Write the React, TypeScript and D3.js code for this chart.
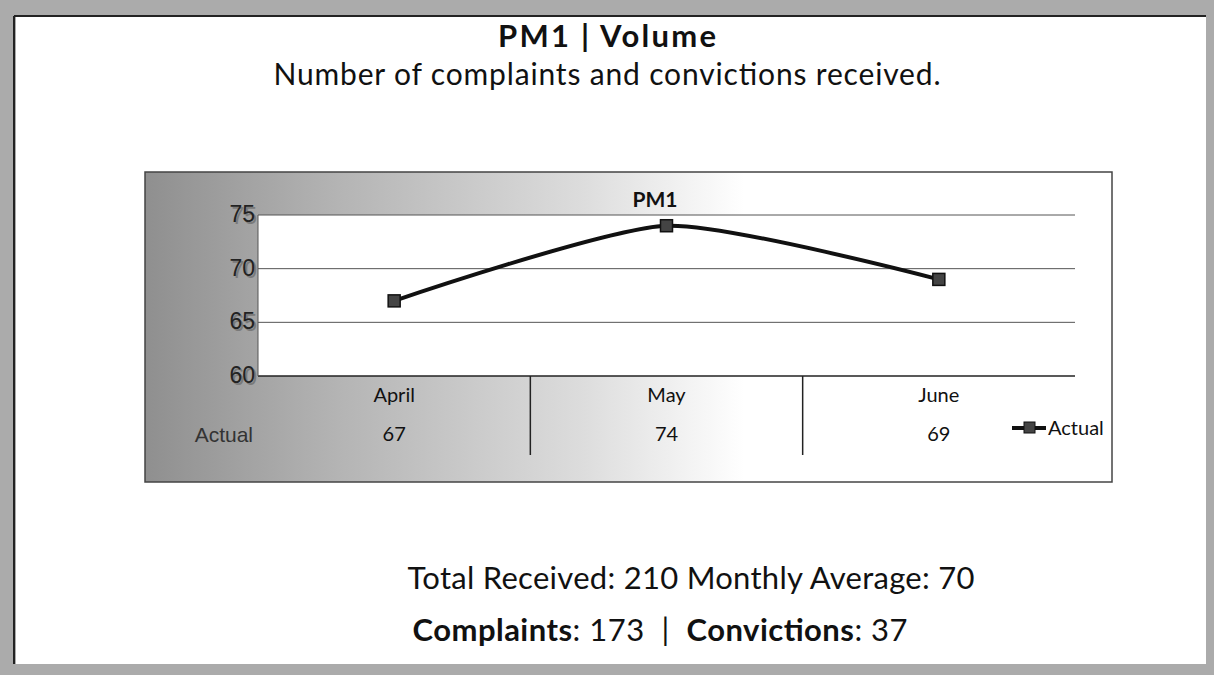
import React, { useEffect, useRef } from 'react';
import * as d3 from 'd3';

// chart data
const months = ['April', 'May', 'June'];
const actual = [67, 74, 69];
const yTicks = [60, 65, 70, 75];
const seriesName = 'Actual';

const W = 1214;
const H = 675;

const App = () => {
    const svgRef = useRef<SVGSVGElement>(null);

    useEffect(() => {
        const svg = d3.select(svgRef.current);
        svg.selectAll('*').remove();

        const calibri = 'Lato, "Open Sans", sans-serif';
        const arial = '"Liberation Sans", Arial, sans-serif';

        const defs = svg.append('defs');
        const grad = defs.append('linearGradient').attr('id', 'chartBg')
            .attr('x1', '0%').attr('x2', '100%').attr('y1', '0%').attr('y2', '0%');
        grad.append('stop').attr('offset', '0%').attr('stop-color', '#8f8f8f');
        grad.append('stop').attr('offset', '20%').attr('stop-color', '#b4b4b4');
        grad.append('stop').attr('offset', '45%').attr('stop-color', '#dcdcdc');
        grad.append('stop').attr('offset', '62%').attr('stop-color', '#ffffff');
        grad.append('stop').attr('offset', '100%').attr('stop-color', '#ffffff');

        // page frame
        svg.append('rect').attr('width', W).attr('height', H).attr('fill', '#ababab');
        svg.append('rect').attr('x', 16).attr('y', 17).attr('width', 1190).attr('height', 647).attr('fill', '#fff');
        svg.append('line').attr('x1', 14).attr('x2', 1206).attr('y1', 16).attr('y2', 16)
            .attr('stroke', '#222').attr('stroke-width', 2);
        svg.append('line').attr('x1', 14).attr('x2', 14).attr('y1', 16).attr('y2', 664)
            .attr('stroke', '#222').attr('stroke-width', 2);

        // headings
        svg.append('text').attr('x', 607).attr('y', 47).attr('text-anchor', 'middle')
            .attr('font-family', calibri).attr('font-weight', 'bold').attr('font-size', 31)
            .attr('textLength', 218).attr('lengthAdjust', 'spacing')
            .attr('fill', '#111').text('PM1 | Volume');
        svg.append('text').attr('x', 607).attr('y', 85).attr('text-anchor', 'middle')
            .attr('font-family', calibri).attr('font-size', 30)
            .attr('textLength', 667).attr('lengthAdjust', 'spacing')
            .attr('fill', '#111').text('Number of complaints and convictions received.');

        // chart box
        const box = { x: 145, y: 172, w: 967, h: 310 };
        svg.append('rect').attr('x', box.x).attr('y', box.y).attr('width', box.w).attr('height', box.h)
            .attr('fill', 'url(#chartBg)').attr('stroke', '#444').attr('stroke-width', 1.5);

        const plot = { left: 258, right: 1075, top: 215, bottom: 376 };
        const x = d3.scaleBand().domain(months).range([plot.left, plot.right]);
        const y = d3.scaleLinear().domain([60, 75]).range([plot.bottom, plot.top]);

        svg.append('rect').attr('x', plot.left).attr('y', plot.top)
            .attr('width', plot.right - plot.left).attr('height', plot.bottom - plot.top)
            .attr('fill', '#fff');

        // gridlines
        svg.append('g').selectAll('line').data(yTicks).join('line')
            .attr('x1', plot.left).attr('x2', plot.right)
            .attr('y1', d => y(d)).attr('y2', d => y(d))
            .attr('stroke', d => d === 60 ? '#222' : '#555').attr('stroke-width', d => d === 60 ? 1.5 : 1);
        svg.append('line').attr('x1', plot.left).attr('x2', plot.left)
            .attr('y1', plot.top).attr('y2', plot.bottom).attr('stroke', '#555');

        // y tick labels
        const yg = svg.append('g');
        yg.selectAll('text.sh').data(yTicks).join('text')
            .attr('x', 257).attr('y', d => y(d) + 9).attr('text-anchor', 'end')
            .attr('font-family', arial).attr('font-size', 23).attr('fill', '#7a7a7a')
            .text(d => d);
        yg.selectAll('text.lb').data(yTicks).join('text')
            .attr('x', 255).attr('y', d => y(d) + 7).attr('text-anchor', 'end')
            .attr('font-family', arial).attr('font-size', 23).attr('fill', '#222')
            .text(d => d);

        // chart title
        svg.append('text').attr('x', 655).attr('y', 207).attr('text-anchor', 'middle')
            .attr('font-family', calibri).attr('font-weight', 'bold').attr('font-size', 21)
            .attr('fill', '#111').text('PM1');

        // data table
        const bounds = months.slice(1).map(m => x(m) as number);
        svg.append('g').selectAll('line').data(bounds).join('line')
            .attr('x1', d => d).attr('x2', d => d).attr('y1', plot.bottom).attr('y2', 455)
            .attr('stroke', '#222').attr('stroke-width', 1.5);

        const cx = (m: string) => (x(m) as number) + x.bandwidth() / 2;
        svg.append('g').selectAll('text').data(months).join('text')
            .attr('x', d => cx(d)).attr('y', 402).attr('text-anchor', 'middle')
            .attr('font-family', calibri).attr('font-size', 20).attr('fill', '#111')
            .text(d => d);
        svg.append('g').selectAll('text').data(actual).join('text')
            .attr('x', (d, i) => cx(months[i])).attr('y', 441).attr('text-anchor', 'middle')
            .attr('font-family', calibri).attr('font-size', 20).attr('fill', '#111')
            .text(d => d);
        svg.append('text').attr('x', 253).attr('y', 442).attr('text-anchor', 'end')
            .attr('font-family', arial).attr('font-size', 21).attr('fill', '#333')
            .text(seriesName);

        // series line
        const line = d3.line<number>()
            .x((d, i) => cx(months[i]))
            .y(d => y(d))
            .curve(d3.curveCardinal.tension(0.35));
        svg.append('path').datum(actual).attr('d', line)
            .attr('fill', 'none').attr('stroke', '#111').attr('stroke-width', 4);
        svg.append('g').selectAll('rect').data(actual).join('rect')
            .attr('x', (d, i) => cx(months[i]) - 6).attr('y', d => y(d) - 6)
            .attr('width', 12).attr('height', 12)
            .attr('fill', '#444').attr('stroke', '#111').attr('stroke-width', 1.5);

        // legend
        svg.append('line').attr('x1', 1012).attr('x2', 1046).attr('y1', 428).attr('y2', 428)
            .attr('stroke', '#111').attr('stroke-width', 4);
        svg.append('rect').attr('x', 1024).attr('y', 422).attr('width', 11).attr('height', 11)
            .attr('fill', '#444').attr('stroke', '#111');
        svg.append('text').attr('x', 1048).attr('y', 435)
            .attr('font-family', calibri).attr('font-size', 20).attr('fill', '#111')
            .text(seriesName);

        // summary
        svg.append('text').attr('x', 691).attr('y', 589).attr('text-anchor', 'middle')
            .attr('font-family', calibri).attr('font-size', 31)
            .attr('textLength', 567).attr('lengthAdjust', 'spacing')
            .attr('fill', '#111')
            .text('Total Received: 210 Monthly Average: 70');
        const s2 = svg.append('text').attr('x', 660).attr('y', 641).attr('text-anchor', 'middle')
            .attr('font-family', calibri).attr('font-size', 31)
            .attr('textLength', 495).attr('lengthAdjust', 'spacing')
            .attr('fill', '#111');
        s2.append('tspan').attr('font-weight', 'bold').text('Complaints');
        s2.append('tspan').text(': 173 \u00a0|\u00a0 ');
        s2.append('tspan').attr('font-weight', 'bold').text('Convictions');
        s2.append('tspan').text(': 37');
    }, []);

    return <svg ref={svgRef} width={W} height={H} style={{ position: 'absolute', left: 0, top: 0 }} />;
};

export default App;
